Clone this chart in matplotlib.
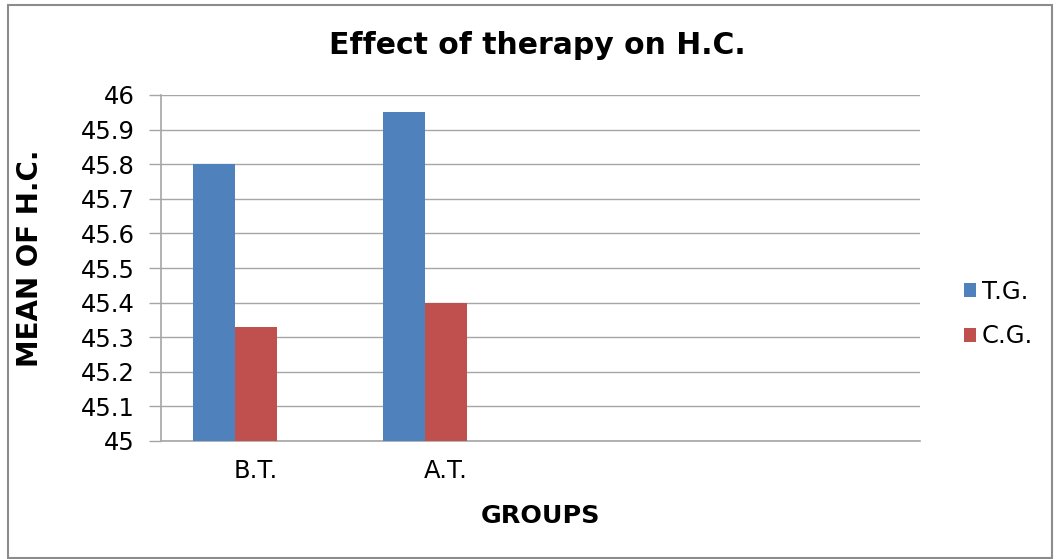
import matplotlib
matplotlib.use("Agg")
import matplotlib.pyplot as plt
from matplotlib.patches import Rectangle

categories = ["B.T.", "A.T.", "", ""]
series_names = ["T.G.", "C.G."]
tg_values = [45.80, 45.95]
cg_values = [45.33, 45.40]
y_ticks = [45, 45.1, 45.2, 45.3, 45.4, 45.5, 45.6, 45.7, 45.8, 45.9, 46]
y_tick_labels = ["45", "45.1", "45.2", "45.3", "45.4", "45.5", "45.6", "45.7", "45.8", "45.9", "46"]

blue = "#4F81BD"
red = "#C0504D"
grid_c = "#A6A6A6"

fig = plt.figure(figsize=(10.57, 5.59), dpi=100)
fig.patches.append(Rectangle((8/1057, 0.002), 1 - 13/1057, 1 - 5/559 - 0.002,
                             transform=fig.transFigure, fill=False,
                             edgecolor="#8C8C8C", linewidth=1.5))

ax = fig.add_axes([161/1057, 1 - 441/559, (920 - 161)/1057, (441 - 95)/559])

w = 42/190
xs = list(range(len(tg_values)))
ax.bar([x - w for x in xs], [v - 45 for v in tg_values], width=w, bottom=45,
       color=blue, align="center", label=series_names[0], zorder=3)
ax.bar(xs, [v - 45 for v in cg_values], width=w, bottom=45,
       color=red, align="center", label=series_names[1], zorder=3)

ax.set_xlim(-0.5, len(categories) - 0.5)
ax.set_ylim(45, 46)
ax.set_yticks(y_ticks)
ax.set_yticklabels(y_tick_labels)
ax.set_xticks(range(len(categories)))
ax.set_xticklabels(categories)
ax.yaxis.grid(True, color=grid_c, linewidth=1.0, zorder=0)
ax.set_axisbelow(True)
for s in ["top", "right"]:
    ax.spines[s].set_visible(False)
for s in ["left", "bottom"]:
    ax.spines[s].set_color(grid_c)
    ax.spines[s].set_linewidth(1.2)
ax.tick_params(axis="y", length=9, width=1.0, color=grid_c, labelsize=17.5, pad=10)
ax.tick_params(axis="x", length=0, labelsize=17.5, pad=13)

fig.text(537/1057, 1 - 46/559, "Effect of therapy on H.C.", ha="center", va="center",
         fontsize=21.5, fontweight="bold")
fig.text(30/1057, 1 - 258/559, "MEAN OF H.C.", ha="center", va="center",
         rotation=90, fontsize=20, fontweight="bold")
fig.text(541/1057, 1 - 516/559, "GROUPS", ha="center", va="center",
         fontsize=18.3, fontweight="bold")

leg = fig.legend(loc="center left", bbox_to_anchor=(942/1057, 1 - 314/559),
                 frameon=False, fontsize=17.5, handlelength=0.5, handleheight=0.5,
                 handletextpad=0.25, labelspacing=0.85)

fig.savefig("out.png", dpi=100)
